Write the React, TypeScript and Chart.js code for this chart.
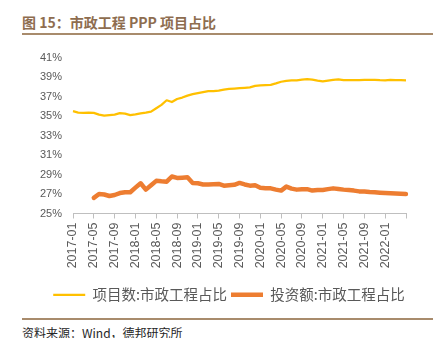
import React, { useEffect, useRef } from 'react';
import { Chart, registerables } from 'chart.js';

Chart.register(...registerables);

const months: string[] = [
  '2017-01','2017-02','2017-03','2017-04','2017-05','2017-06','2017-07','2017-08','2017-09','2017-10','2017-11','2017-12',
  '2018-01','2018-02','2018-03','2018-04','2018-05','2018-06','2018-07','2018-08','2018-09','2018-10','2018-11','2018-12',
  '2019-01','2019-02','2019-03','2019-04','2019-05','2019-06','2019-07','2019-08','2019-09','2019-10','2019-11','2019-12',
  '2020-01','2020-02','2020-03','2020-04','2020-05','2020-06','2020-07','2020-08','2020-09','2020-10','2020-11','2020-12',
  '2021-01','2021-02','2021-03','2021-04','2021-05','2021-06','2021-07','2021-08','2021-09','2021-10','2021-11','2021-12',
  '2022-01','2022-02','2022-03','2022-04','2022-05',
];

const countShare: number[] = [
  35.50, 35.36, 35.33, 35.35, 35.33, 35.15, 35.05, 35.10, 35.15, 35.30, 35.25, 35.10,
  35.18, 35.28, 35.35, 35.45, 35.80, 36.15, 36.62, 36.44, 36.75, 36.90, 37.10, 37.25,
  37.35, 37.45, 37.55, 37.56, 37.62, 37.72, 37.78, 37.82, 37.86, 37.90, 37.95, 38.10,
  38.16, 38.18, 38.20, 38.35, 38.52, 38.62, 38.66, 38.66, 38.74, 38.78, 38.74, 38.64,
  38.56, 38.64, 38.72, 38.76, 38.68, 38.68, 38.70, 38.70, 38.72, 38.72, 38.72, 38.68,
  38.66, 38.72, 38.70, 38.68, 38.66,
];

const investShare: (number | null)[] = [
  null, null, null, null, 26.60, 27.00, 26.95, 26.80, 26.90, 27.10, 27.18, 27.18,
  27.65, 28.10, 27.45, 27.90, 28.35, 28.30, 28.27, 28.80, 28.65, 28.68, 28.72, 28.14,
  28.10, 27.98, 27.98, 28.00, 28.03, 27.86, 27.90, 27.95, 28.14, 27.98, 27.86, 27.90,
  27.65, 27.60, 27.58, 27.45, 27.35, 27.76, 27.55, 27.45, 27.50, 27.50, 27.35, 27.40,
  27.42, 27.50, 27.58, 27.52, 27.45, 27.40, 27.35, 27.27, 27.25, 27.20, 27.18, 27.14,
  27.10, 27.07, 27.05, 27.02, 27.00,
];

const seriesNames: string[] = ['项目数:市政工程占比', '投资额:市政工程占比'];
const yTicks = { min: 25, max: 41, step: 2 };

const titleText = '图 15：市政工程 PPP 项目占比';
const sourceText = '资料来源：Wind，德邦研究所';

const legendShift = {
  id: 'legendShift',
  afterLayout(chart: any) {
    const lg = chart.legend;
    if (lg) {
      lg.left += 15;
      lg.right += 15;
    }
  },
};

export default function App() {
  const canvasRef = useRef<HTMLCanvasElement | null>(null);

  useEffect(() => {
    if (!canvasRef.current) return;
    const chart = new Chart(canvasRef.current, {
      type: 'line',
      data: {
        labels: months,
        datasets: [
          {
            label: seriesNames[0],
            data: countShare,
            borderColor: '#FFC000',
            backgroundColor: '#FFC000',
            borderWidth: 2.25,
            pointRadius: 0,
            tension: 0,
            borderJoinStyle: 'round',
            borderCapStyle: 'butt',
          },
          {
            label: seriesNames[1],
            data: investShare,
            borderColor: '#ED7D31',
            backgroundColor: '#ED7D31',
            borderWidth: 4.5,
            pointRadius: 0,
            tension: 0,
            borderJoinStyle: 'round',
            borderCapStyle: 'round',
          },
        ],
      },
      options: {
        responsive: false,
        animation: false,
        layout: { padding: { left: 22, right: 30, top: 17, bottom: 0 } },
        plugins: {
          tooltip: { enabled: false },
          legend: {
            position: 'bottom',
            labels: {
              usePointStyle: true,
              pointStyle: 'line',
              pointStyleWidth: 32,
              boxWidth: 32,
              padding: 4,
              color: '#595959',
              font: { family: '"Noto Sans CJK SC", sans-serif', size: 14.5 },
            },
          },
        },
        scales: {
          x: {
            type: 'category',
            offset: false,
            afterFit: (s: any) => { s.height = 70; },
            border: { display: true, color: '#BFBFBF', width: 1 },
            grid: {
              drawOnChartArea: false,
              drawTicks: true,
              tickLength: 5,
              tickColor: (ctx: any) => (ctx.index % 4 === 0 ? '#BFBFBF' : 'rgba(0,0,0,0)'),
            },
            ticks: {
              autoSkip: false,
              minRotation: 90,
              maxRotation: 90,
              padding: 4,
              color: '#595959',
              font: { family: '"Liberation Sans", Arial, sans-serif', size: 12.5 },
              callback: (_v: any, i: number) => (i % 4 === 0 && i < months.length - 1 ? months[i] : ''),
            },
          },
          y: {
            min: yTicks.min,
            max: yTicks.max,
            afterFit: (s: any) => { s.width = 51; },
            border: { display: false },
            grid: { display: false, drawTicks: false },
            ticks: {
              stepSize: yTicks.step,
              padding: 11,
              color: '#595959',
              font: { family: '"Liberation Sans", Arial, sans-serif', size: 11 },
              callback: (v: any) => `${v}%`,
            },
          },
        },
      },
      plugins: [legendShift],
    });
    return () => chart.destroy();
  }, []);

  return (
    <div style={{ position: 'fixed', left: 0, top: 0, width: 436, height: 338, background: '#fff', overflow: 'hidden' }}>
      <div
        style={{
          position: 'absolute', left: 22, top: 12, fontFamily: '"Noto Sans CJK SC", sans-serif',
          fontSize: 14, fontWeight: 700, color: '#8E6D4F', lineHeight: '20px', whiteSpace: 'nowrap',
        }}
      >
        {titleText}
      </div>
      <div style={{ position: 'absolute', left: 22, top: 33, width: 411, height: 2, background: '#A88B6C' }} />
      <canvas ref={canvasRef} width={436} height={272} style={{ position: 'absolute', left: 0, top: 40, width: 436, height: 272 }} />
      <div style={{ position: 'absolute', left: 22, top: 318, width: 411, height: 2, background: '#A88B6C' }} />
      <div
        style={{
          position: 'absolute', left: 22, top: 324, fontFamily: '"Noto Sans CJK SC", sans-serif',
          fontSize: 12, color: '#262626', lineHeight: '18px', whiteSpace: 'nowrap',
        }}
      >
        {sourceText}
      </div>
    </div>
  );
}
